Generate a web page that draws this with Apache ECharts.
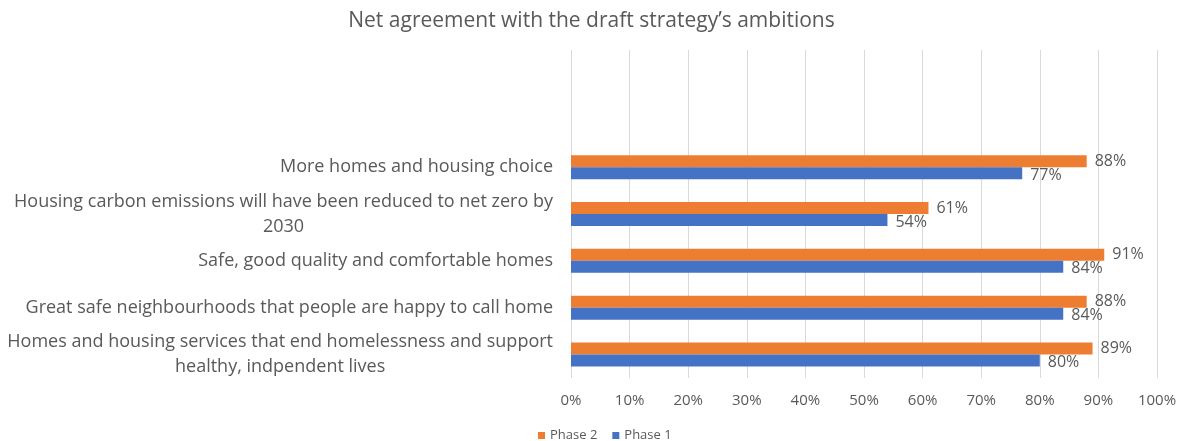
<!DOCTYPE html>
<html>
<head>
<meta charset="utf-8">
<script src="https://cdn.jsdelivr.net/npm/echarts@6/dist/echarts.min.js"></script>
<style>html,body{margin:0;padding:0;background:#fff;}#c{width:1183px;height:441px;}</style>
</head>
<body>
<div id="c"></div>
<script>
const categories = [
  'More homes and housing choice',
  'Housing carbon emissions will have been reduced to net zero by\n2030',
  'Safe, good quality and comfortable homes',
  'Great safe neighbourhoods that people are happy to call home',
  'Homes and housing services that end homelessness and support\nhealthy, indpendent lives'
];
const phase2 = [88, 61, 91, 88, 89];
const phase1 = [77, 54, 84, 84, 80];
const xTicks = [0, 10, 20, 30, 40, 50, 60, 70, 80, 90, 100];

// two empty category slots at the top, as in the reference
const cats = ['', ''].concat(categories);
const p2 = [null, null].concat(phase2);
const p1 = [null, null].concat(phase1);

const FONT = '"Open Sans", "Liberation Sans", sans-serif';
const chart = echarts.init(document.getElementById('c'), null, {renderer: 'canvas'});
chart.setOption({
  animation: false,
  textStyle: {fontFamily: FONT},
  title: {
    text: 'Net agreement with the draft strategy\u2019s ambitions',
    left: 'center', top: 6,
    textStyle: {fontFamily: FONT, fontSize: 21, fontWeight: 'normal', color: '#595959'}
  },
  legend: {
    data: ['Phase 2', 'Phase 1'],
    top: 424, left: 533,
    itemWidth: 7, itemHeight: 7, itemGap: 15,
    icon: 'rect',
    textStyle: {fontFamily: FONT, fontSize: 13, color: '#595959'}
  },
  grid: {left: 571, right: 26, top: 50, bottom: 63, containLabel: false},
  xAxis: {
    type: 'value', min: 0, max: 100, interval: 10,
    axisLine: {show: false}, axisTick: {show: false},
    splitLine: {lineStyle: {color: '#d9d9d9', width: 1}},
    axisLabel: {
      margin: 15, fontSize: 15, color: '#595959', fontFamily: FONT,
      formatter: v => xTicks.indexOf(v) >= 0 ? v + '%' : ''
    }
  },
  yAxis: {
    type: 'category', data: cats, inverse: true,
    axisLine: {show: false}, axisTick: {show: false},
    axisLabel: {
      margin: 18, fontSize: 18, color: '#595959', fontFamily: FONT,
      align: 'right', lineHeight: 25,
      formatter: v => v ? v.split('\n').map(s => '{c|' + s + '}').join('\n') : '',
      rich: {c: {align: 'center', fontSize: 18, color: '#595959', fontFamily: FONT, lineHeight: 25}}
    }
  },
  series: [
    {
      name: 'Phase 2', type: 'bar', data: p2, barWidth: 12, barGap: '0%',
      itemStyle: {color: '#ED7D31'},
      label: {show: true, position: 'right', distance: 8, formatter: '{c}%', fontSize: 16, color: '#595959', fontFamily: FONT}
    },
    {
      name: 'Phase 1', type: 'bar', data: p1, barWidth: 12, barGap: '0%',
      itemStyle: {color: '#4472C4'},
      label: {show: true, position: 'right', distance: 8, formatter: '{c}%', fontSize: 16, color: '#595959', fontFamily: FONT, offset: [0, 2]}
    }
  ]
});
</script>
</body>
</html>
